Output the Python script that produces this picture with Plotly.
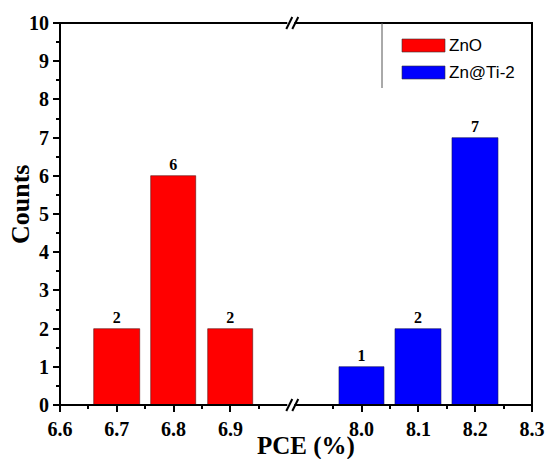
import plotly.graph_objects as go

# ---- data ----
zno_pce = [6.7, 6.8, 6.9]
zno_counts = [2, 6, 2]
znti_pce = [8.0, 8.1, 8.2]
znti_counts = [1, 2, 7]
series_names = ["ZnO", "Zn@Ti-2"]
left_ticks = [6.6, 6.7, 6.8, 6.9]
right_ticks = [8.0, 8.1, 8.2, 8.3]
y_ticks = list(range(0, 11))

W, H = 546, 459
L, R, T, B = 60, 14, 23, 54
PW, PH = W - L - R, H - T - B

def px(x):
    return (x - L) / PW

def py(y):
    return (H - B - y) / PH

SERIF = "Liberation Serif"
SANS = "Liberation Sans"
RED = "#FF0000"
BLUE = "#0000FF"

fig = go.Figure()
fig.add_trace(go.Bar(
    x=zno_pce, y=zno_counts, name=series_names[0], width=0.08,
    marker=dict(color=RED, line=dict(color="#5a1010", width=0.6)),
    text=[str(v) for v in zno_counts], textposition="outside",
    textfont=dict(family=SERIF, size=16, color="black", weight="bold"),
    cliponaxis=False, xaxis="x", yaxis="y", showlegend=False))
fig.add_trace(go.Bar(
    x=znti_pce, y=znti_counts, name=series_names[1], width=0.08,
    marker=dict(color=BLUE, line=dict(color="#10105a", width=0.6)),
    text=[str(v) for v in znti_counts], textposition="outside",
    textfont=dict(family=SERIF, size=16, color="black", weight="bold"),
    cliponaxis=False, xaxis="x2", yaxis="y", showlegend=False))

split = 0.49
lw = split * PW
rw = (1 - split) * PW
pxper = 568.0  # pixels per unit PCE


def tf():
    return dict(family=SERIF, size=20, color="black", weight="bold")


fig.update_layout(
    width=W, height=H,
    margin=dict(l=L, r=R, t=T, b=B, autoexpand=False),
    font=dict(family=SERIF, color="black"),
    paper_bgcolor="white", plot_bgcolor="white",
    bargap=0,
    xaxis=dict(domain=[0, split], range=[6.6, 6.6 + lw / pxper], automargin=False,
               tickmode="array", tickvals=left_ticks,
               ticktext=[f"{v:.1f}" for v in left_ticks],
               ticks="outside", ticklen=6, tickwidth=2, tickcolor="black",
               minor=dict(tickmode="array", tickvals=[6.65, 6.75, 6.85, 6.95],
                          ticks="outside", ticklen=3, tickwidth=2, tickcolor="black"),
               showgrid=False, zeroline=False, showline=False,
               tickfont=tf(), anchor="y"),
    xaxis2=dict(domain=[split, 1], range=[8.3 - rw / pxper, 8.3], automargin=False,
                tickmode="array", tickvals=right_ticks,
                ticktext=[f"{v:.1f}" for v in right_ticks],
                ticks="outside", ticklen=6, tickwidth=2, tickcolor="black",
                minor=dict(tickmode="array", tickvals=[7.95, 8.05, 8.15, 8.25],
                           ticks="outside", ticklen=3, tickwidth=2, tickcolor="black"),
                showgrid=False, zeroline=False, showline=False,
                tickfont=tf(), anchor="y"),
    yaxis=dict(range=[0, 10], tickmode="array", tickvals=y_ticks, automargin=False,
               ticks="outside", ticklen=6, tickwidth=2, tickcolor="black",
               minor=dict(dtick=0.5, ticks="outside", ticklen=3, tickwidth=2,
                          tickcolor="black"),
               showgrid=False, zeroline=False, showline=False,
               tickfont=tf(), anchor="x"),
)

shapes = []
# frame
shapes.append(dict(type="rect", xref="paper", yref="paper", x0=0, x1=1, y0=0, y1=1,
                   line=dict(color="black", width=2), layer="above"))
# break marks (top and bottom)
for yb in (0, 1):
    shapes.append(dict(type="rect", xref="paper", yref="paper",
                       xsizemode="pixel", ysizemode="pixel",
                       xanchor=split, yanchor=yb, x0=-4, x1=3, y0=-2, y1=2,
                       fillcolor="white", line=dict(width=0), layer="above"))
    for dx in (-5, 1):
        shapes.append(dict(type="line", xref="paper", yref="paper",
                           xsizemode="pixel", ysizemode="pixel",
                           xanchor=split, yanchor=yb,
                           x0=dx, x1=dx + 6, y0=-6, y1=6,
                           line=dict(color="black", width=2), layer="above"))
# legend box left edge
shapes.append(dict(type="line", xref="paper", yref="paper",
                   x0=px(382), x1=px(382), y0=py(23), y1=py(88),
                   line=dict(color="#555555", width=1)))
# legend swatches
for i, col in enumerate([RED, BLUE]):
    y0 = 39 + i * 27
    shapes.append(dict(type="rect", xref="paper", yref="paper",
                       x0=px(402), x1=px(445), y0=py(y0 + 13), y1=py(y0),
                       fillcolor=col, line=dict(color="#333333", width=0.6)))
fig.update_layout(shapes=shapes)

ann = []
for i, name in enumerate(series_names):
    ann.append(dict(text=name, xref="paper", yref="paper", x=px(447), y=py(45.5 + i * 27),
                    xanchor="left", yanchor="middle", showarrow=False,
                    font=dict(family=SANS, size=17, color="black")))
ann.append(dict(text="PCE (%)", xref="paper", yref="paper", x=px(306), y=py(446),
                xanchor="center", yanchor="middle", showarrow=False,
                font=dict(family=SERIF, size=25, color="black", weight="bold")))
ann.append(dict(text="Counts", xref="paper", yref="paper", x=px(20), y=py(205),
                xanchor="center", yanchor="middle", showarrow=False, textangle=-90,
                font=dict(family=SERIF, size=26, color="black", weight="bold")))
fig.update_layout(annotations=ann)

fig.write_html("out.html")
